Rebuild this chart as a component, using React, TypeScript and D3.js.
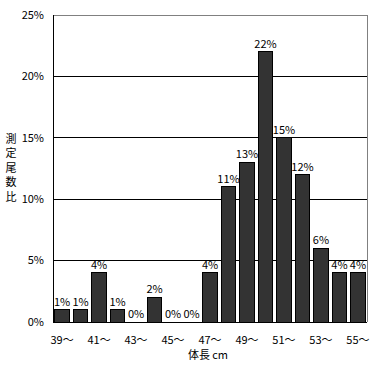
import React from "react";
import * as d3 from "d3";

const categories = ["39～","40～","41～","42～","43～","44～","45～","46～","47～","48～","49～","50～","51～","52～","53～","54～","55～"];
const values = [1,1,4,1,0,2,0,0,4,11,13,22,15,12,6,4,4];
const yTicks = [0,5,10,15,20,25];
const yTitle = ["測","定","尾","数","比"];
const xTitle = ["体長", "cm"];

const W = 382, H = 367;
const M = { left: 53, right: 367, top: 15, bottom: 322 };
const FONT = "'Noto Sans CJK JP', 'DejaVu Sans', sans-serif";

export default function App() {
  const x = d3.scaleBand<string>().domain(categories).range([M.left, M.right]).paddingInner(0.22).paddingOuter(0.1);
  const y = d3.scaleLinear().domain([0, 25]).range([M.bottom, M.top]);
  return (
    <svg width={W} height={H} style={{ position: "absolute", left: 0, top: 0, background: "#fff" }}>
      {yTicks.filter(t => t > 0 && t < 25).map(t => (
        <line key={t} x1={M.left} x2={M.right} y1={y(t)} y2={y(t)} stroke="#000" strokeWidth={1} shapeRendering="crispEdges" />
      ))}
      <line x1={M.left} x2={M.right} y1={y(25)} y2={y(25)} stroke="#808080" shapeRendering="crispEdges" />
      <line x1={M.right} x2={M.right} y1={M.top} y2={M.bottom} stroke="#808080" shapeRendering="crispEdges" />
      {values.map((v, i) => (
        <rect key={i} x={x(categories[i])!} y={y(v)} width={x.bandwidth()} height={M.bottom - y(v)}
          fill="#333333" stroke="#000" strokeWidth={1} shapeRendering="crispEdges" />
      ))}
      <line x1={M.left} x2={M.left} y1={M.top} y2={M.bottom} stroke="#000" shapeRendering="crispEdges" />
      <line x1={M.left} x2={M.right} y1={M.bottom} y2={M.bottom} stroke="#000" shapeRendering="crispEdges" />
      {yTicks.map(t => (
        <text key={t} x={44} y={y(t)} dy="0.35em" textAnchor="end" fontSize={11} fontFamily={FONT} fill="#000">{t}%</text>
      ))}
      {values.map((v, i) => (
        <text key={i} x={x(categories[i])! + x.bandwidth() / 2} y={y(v) - 4} textAnchor="middle" fontSize={11} fontFamily={FONT} fill="#000">{v}%</text>
      ))}
      {categories.map((c, i) => i % 2 === 0 ? (
        <text key={c} x={x(c)! + x.bandwidth() / 2} y={340} dy="0.35em" textAnchor="middle" fontSize={11} fontFamily={FONT} fill="#000">{c}</text>
      ) : null)}
      <text x={188} y={355} dy="0.35em" textAnchor="start" fontSize={11} fontFamily={FONT} fill="#000">{xTitle[0]}</text>
      <text x={228} y={355} dy="0.35em" textAnchor="end" fontSize={11} fontFamily={FONT} fill="#000">{xTitle[1]}</text>
      {yTitle.map((ch, i) => (
        <text key={i} x={11} y={139 + i * 14.5} dy="0.35em" textAnchor="middle" fontSize={11} fontFamily={FONT} fill="#000">{ch}</text>
      ))}
    </svg>
  );
}
